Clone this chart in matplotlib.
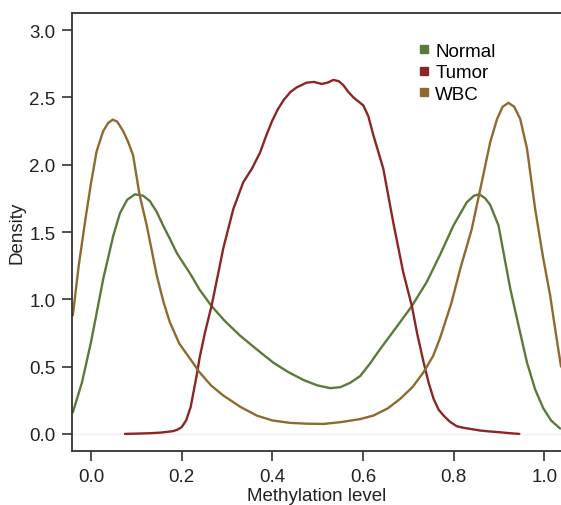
import matplotlib
matplotlib.use("Agg")
import matplotlib.pyplot as plt
from matplotlib.lines import Line2D

plt.rcParams["font.family"] = ["Liberation Sans", "DejaVu Sans"]

# density curves (x = methylation level, y = density)
normal_x = [-0.04, -0.02, 0.0, 0.027, 0.049, 0.064, 0.08, 0.097, 0.115, 0.13,
            0.145, 0.159, 0.174, 0.19, 0.219, 0.24, 0.266, 0.295, 0.329, 0.365,
            0.402, 0.435, 0.469, 0.50, 0.528, 0.55, 0.572, 0.594, 0.615, 0.638,
            0.66, 0.682, 0.708, 0.741, 0.77, 0.80, 0.829, 0.845, 0.857, 0.87,
            0.881, 0.899, 0.925, 0.945, 0.962, 0.98, 0.998, 1.015, 1.035]
normal_y = [0.16, 0.38, 0.68, 1.15, 1.47, 1.64, 1.74, 1.78, 1.77, 1.73,
            1.65, 1.55, 1.45, 1.34, 1.19, 1.07, 0.95, 0.84, 0.73, 0.63,
            0.53, 0.46, 0.40, 0.36, 0.34, 0.347, 0.38, 0.43, 0.52, 0.63,
            0.73, 0.83, 0.95, 1.13, 1.33, 1.55, 1.72, 1.77, 1.78, 1.75,
            1.70, 1.55, 1.08, 0.78, 0.53, 0.33, 0.19, 0.10, 0.04]

tumor_x = [0.075, 0.10, 0.13, 0.155, 0.18, 0.19, 0.2, 0.21, 0.22, 0.233, 0.24,
           0.252, 0.266, 0.28, 0.292, 0.314, 0.336, 0.355, 0.373, 0.386, 0.399,
           0.412, 0.425, 0.44, 0.454, 0.476, 0.492, 0.509, 0.522, 0.535, 0.547,
           0.557, 0.568, 0.579, 0.59, 0.601, 0.612, 0.623, 0.645, 0.667, 0.689,
           0.708, 0.72, 0.734, 0.745, 0.756, 0.767, 0.778, 0.792, 0.807, 0.822,
           0.837, 0.859, 0.88, 0.903, 0.925, 0.945]
tumor_y = [0.0, 0.002, 0.005, 0.01, 0.02, 0.03, 0.05, 0.10, 0.20, 0.43, 0.57,
           0.76, 0.95, 1.18, 1.38, 1.67, 1.87, 1.97, 2.09, 2.21, 2.32,
           2.41, 2.48, 2.54, 2.575, 2.61, 2.615, 2.60, 2.61, 2.63, 2.62,
           2.59, 2.54, 2.50, 2.47, 2.44, 2.36, 2.22, 1.97, 1.57, 1.20,
           0.95, 0.74, 0.53, 0.38, 0.26, 0.18, 0.136, 0.09, 0.057, 0.045,
           0.037, 0.025, 0.018, 0.012, 0.005, 0.0]

wbc_x = [-0.04, -0.027, -0.012, 0.0, 0.0125, 0.027, 0.038, 0.048, 0.058, 0.071,
         0.082, 0.093, 0.107, 0.123, 0.145, 0.16, 0.174, 0.195, 0.219, 0.239,
         0.265, 0.292, 0.33, 0.366, 0.40, 0.439, 0.475, 0.513, 0.55, 0.594,
         0.623, 0.655, 0.682, 0.71, 0.734, 0.755, 0.77, 0.795, 0.815, 0.84,
         0.859, 0.881, 0.896, 0.908, 0.921, 0.934, 0.947, 0.962, 0.98, 0.997,
         1.013, 1.025, 1.037]
wbc_y = [0.88, 1.25, 1.60, 1.86, 2.10, 2.25, 2.31, 2.335, 2.32, 2.25,
         2.17, 2.07, 1.78, 1.55, 1.18, 0.98, 0.83, 0.67, 0.557, 0.46,
         0.36, 0.285, 0.20, 0.136, 0.10, 0.082, 0.076, 0.074, 0.087, 0.11,
         0.136, 0.19, 0.26, 0.35, 0.46, 0.58, 0.71, 0.97, 1.23, 1.52,
         1.82, 2.17, 2.34, 2.43, 2.46, 2.43, 2.34, 2.12, 1.67, 1.32,
         1.03, 0.76, 0.50]

labels = ["Normal", "Tumor", "WBC"]
colors = ["#5b7a3a", "#8b2626", "#8e6a30"]

fig = plt.figure(figsize=(5.61, 5.06), dpi=100)
ax = fig.add_axes([0.129, 0.107, 0.871, 0.865])

ax.axhline(0, color="#eeeeee", linewidth=1.0, zorder=0)
for xs, ys, c in zip([normal_x, tumor_x, wbc_x], [normal_y, tumor_y, wbc_y], colors):
    ax.plot(xs, ys, color=c, linewidth=1.7, solid_capstyle="round",
            solid_joinstyle="round")

ax.set_xlim(-0.041, 1.037)
ax.set_ylim(-0.126, 3.126)
ax.set_xticks([0.0, 0.2, 0.4, 0.6, 0.8, 1.0])
ax.set_yticks([0.0, 0.5, 1.0, 1.5, 2.0, 2.5, 3.0])
ax.xaxis.set_major_formatter(plt.FormatStrFormatter("%.1f"))
ax.yaxis.set_major_formatter(plt.FormatStrFormatter("%.1f"))
ax.tick_params(direction="out", length=7, width=1.2, color="#333333",
               labelsize=13.5, labelcolor="#222222", pad=5)
ax.spines["right"].set_visible(False)
for s in ["left", "bottom", "top"]:
    ax.spines[s].set_color("#333333")
    ax.spines[s].set_linewidth(1.3)

ax.set_xlabel("Methylation level", fontsize=13.5, color="#222222", labelpad=2)
ax.set_ylabel("Density", fontsize=13.5, color="#222222", labelpad=3)

handles = [Line2D([0], [0], marker="s", linestyle="none", markersize=6,
                  markerfacecolor=c, markeredgecolor=c, label=l)
           for l, c in zip(labels, colors)]
ax.legend(handles=handles, loc="upper left", bbox_to_anchor=(0.683, 0.962),
          frameon=False, fontsize=13.5, handlelength=0.5, handletextpad=0.35,
          labelspacing=0.22, borderpad=0.2)

fig.savefig("out.png", dpi=100)
